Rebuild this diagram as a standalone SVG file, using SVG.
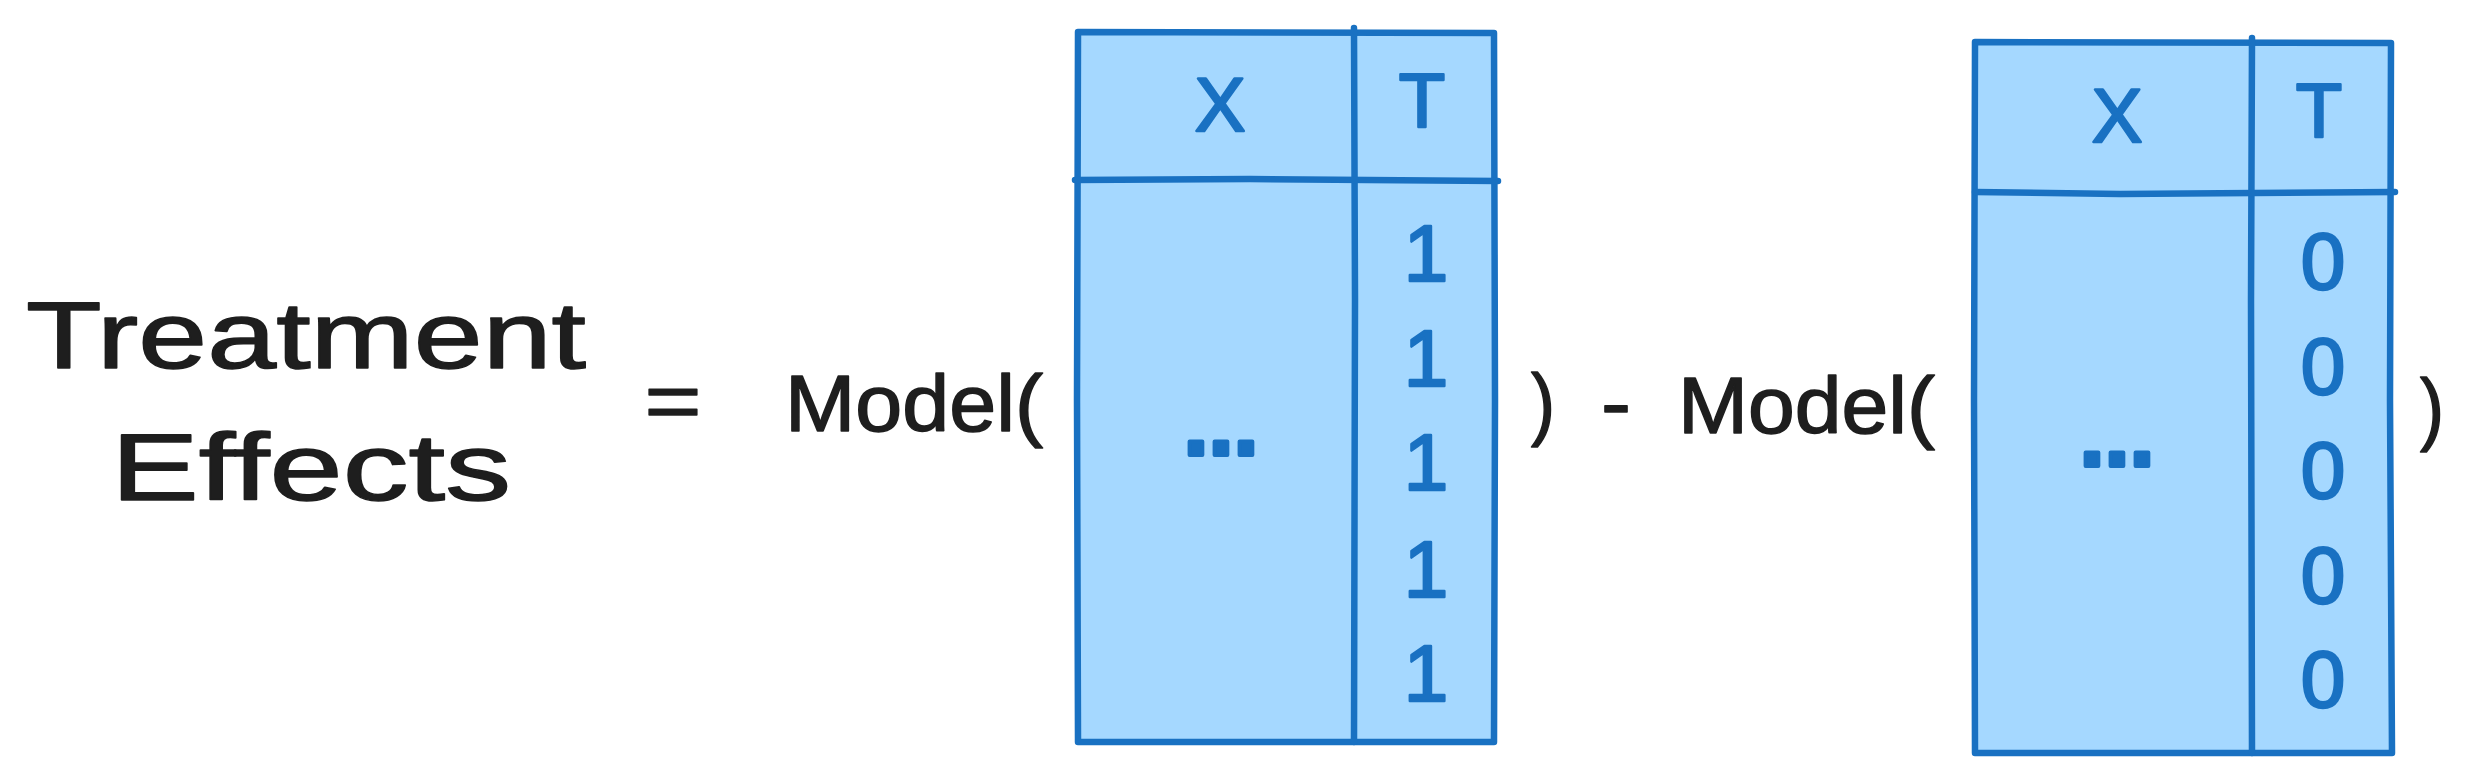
<svg xmlns="http://www.w3.org/2000/svg" width="2474" height="781" viewBox="0 0 2474 781">
<style>
.bg{fill:#ffffff}
.cell{fill:#a5d8ff;stroke:none}
.edge{fill:none;stroke:#1971c2;stroke-width:6.5;stroke-linecap:round;stroke-linejoin:round}
.ink{font-family:"Liberation Sans","DejaVu Sans",sans-serif;fill:#1e1e1e;stroke:#1e1e1e;stroke-width:1.5;stroke-linejoin:round}
.blue{font-family:"Liberation Sans","DejaVu Sans",sans-serif;fill:#1971c2;stroke:#1971c2;stroke-width:2.5;stroke-linejoin:round;text-anchor:middle}
.hd{font-size:76px}
.dg{font-size:80px}
.dots{font-size:90px;font-weight:bold;stroke-width:4}
</style>
<rect class="bg" x="0" y="0" width="2474" height="781"/>
<g id="label-treatment-effects">
<text class="ink" x="306" y="368" font-size="95" text-anchor="middle" textLength="560" lengthAdjust="spacingAndGlyphs">Treatment</text>
<text class="ink" x="311" y="500" font-size="95" text-anchor="middle" textLength="400" lengthAdjust="spacingAndGlyphs">Effects</text>
</g>
<g id="label-equals">
<text class="ink" x="673" y="428" font-size="80" text-anchor="middle" textLength="57" lengthAdjust="spacingAndGlyphs">=</text>
</g>
<g id="label-model1">
<text class="ink" x="785" y="431" font-size="80" textLength="258" lengthAdjust="spacingAndGlyphs">Model(</text>
</g>
<g id="table-treated">
<rect class="cell" x="1078" y="32" width="416" height="710"/>
<path class="edge" d="M1078 32 L1494 33 L1495 400 L1494 742 L1078 742 L1077 400 Z"/>
<path class="edge" d="M1354 28 L1355 300 L1354 742"/>
<path class="edge" d="M1075 180 L1250 179 L1498 181"/>
<text class="blue hd" x="1220" y="131">X</text>
<text class="blue hd" x="1422" y="127">T</text>
<text class="blue dots" x="1221" y="455">...</text>
<text class="blue dg" x="1426" y="281">1</text>
<text class="blue dg" x="1426" y="386">1</text>
<text class="blue dg" x="1426" y="490">1</text>
<text class="blue dg" x="1426" y="597">1</text>
<text class="blue dg" x="1426" y="701">1</text>
</g>
<g id="label-minus">
<text class="ink" x="1543" y="430" font-size="80" text-anchor="middle" textLength="24" lengthAdjust="spacingAndGlyphs">)</text>
<text class="ink" x="1616" y="430" font-size="80" text-anchor="middle" textLength="30" lengthAdjust="spacingAndGlyphs">-</text>
</g>
<g id="label-model2">
<text class="ink" x="1678" y="433" font-size="80" textLength="257" lengthAdjust="spacingAndGlyphs">Model(</text>
</g>
<g id="table-control">
<rect class="cell" x="1975" y="42" width="416" height="711"/>
<path class="edge" d="M1975 42 L2391 43 L2390 400 L2392 753 L1975 753 L1974 400 Z"/>
<path class="edge" d="M2252 38 L2251 300 L2252 753"/>
<path class="edge" d="M1975 192 L2120 194 L2395 192"/>
<text class="blue hd" x="2117" y="142">X</text>
<text class="blue hd" x="2319" y="137">T</text>
<text class="blue dots" x="2117" y="466">...</text>
<text class="blue dg" x="2323" y="289">0</text>
<text class="blue dg" x="2323" y="394">0</text>
<text class="blue dg" x="2323" y="498">0</text>
<text class="blue dg" x="2323" y="603">0</text>
<text class="blue dg" x="2323" y="707">0</text>
</g>
<g id="label-close">
<text class="ink" x="2432" y="435" font-size="80" text-anchor="middle" textLength="24" lengthAdjust="spacingAndGlyphs">)</text>
</g>
<g id="connectors"/>
</svg>
